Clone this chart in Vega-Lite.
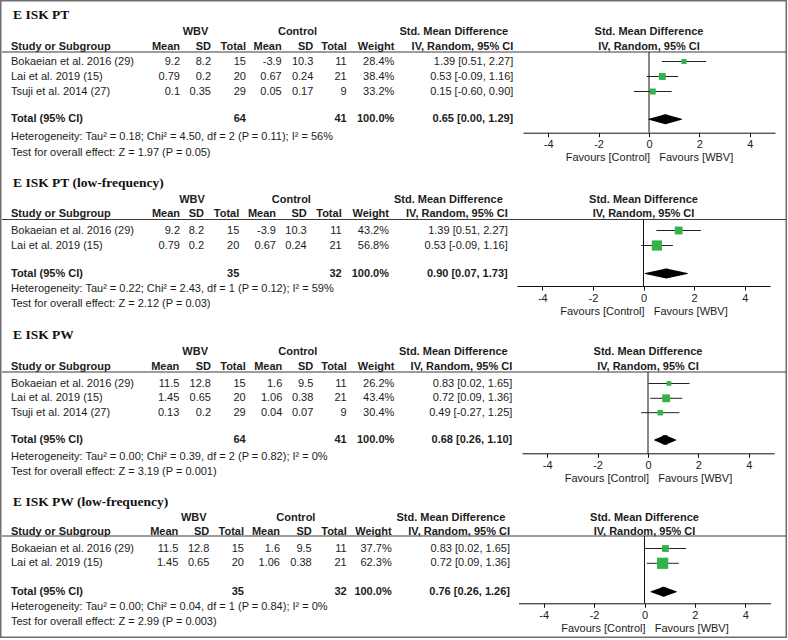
{
  "$schema": "https://vega.github.io/schema/vega-lite/v6.json",
  "width": 787,
  "height": 638,
  "autosize": {"type": "none"},
  "padding": 0,
  "background": "white",
  "config": {
    "view": {"stroke": "#6e6e6e", "strokeWidth": 3},
    "text": {"font": "Liberation Sans", "fontSize": 11, "color": "#1c1c1c", "baseline": "middle"},
    "axis": {"domainColor": "#111111", "tickColor": "#111111", "domainWidth": 1, "tickWidth": 1, "tickSize": 4, "labelFont": "Liberation Sans", "labelFontSize": 11, "labelColor": "#1c1c1c", "labelPadding": 2, "labelExpr": "'' + datum.value", "titleFont": "Liberation Sans", "titleFontSize": 11, "titleFontWeight": "normal", "titleColor": "#1c1c1c", "titlePadding": 2, "grid": false, "labelFlush": false, "labelOverlap": false}
  },
  "datasets": {
    "cells": [
      {"p":1,"row":0,"col":1,"kind":"title","text":"E ISK PT"},
      {"p":1,"row":1,"col":2.5,"kind":"group","text":"WBV"},
      {"p":1,"row":1,"col":5.5,"kind":"group","text":"Control"},
      {"p":1,"row":1,"col":8.5,"kind":"group","text":"Std. Mean Difference"},
      {"p":1,"row":1,"kind":"fhead","text":"Std. Mean Difference"},
      {"p":1,"row":2,"kind":"fhead","text":"IV, Random, 95% CI"},
      {"p":1,"row":2,"col":1,"kind":"head","text":"Study or Subgroup"},
      {"p":1,"row":2,"col":2,"kind":"head","text":"Mean"},
      {"p":1,"row":2,"col":3,"kind":"head","text":"SD"},
      {"p":1,"row":2,"col":4,"kind":"head","text":"Total"},
      {"p":1,"row":2,"col":5,"kind":"head","text":"Mean"},
      {"p":1,"row":2,"col":6,"kind":"head","text":"SD"},
      {"p":1,"row":2,"col":7,"kind":"head","text":"Total"},
      {"p":1,"row":2,"col":8,"kind":"head","text":"Weight"},
      {"p":1,"row":2,"col":9,"kind":"head","text":"IV, Random, 95% CI"},
      {"p":1,"row":3,"col":1,"kind":"study","text":"Bokaeian et al. 2016 (29)"},
      {"p":1,"row":3,"col":2,"kind":"study","text":"9.2"},
      {"p":1,"row":3,"col":3,"kind":"study","text":"8.2"},
      {"p":1,"row":3,"col":4,"kind":"study","text":"15"},
      {"p":1,"row":3,"col":5,"kind":"study","text":"-3.9"},
      {"p":1,"row":3,"col":6,"kind":"study","text":"10.3"},
      {"p":1,"row":3,"col":7,"kind":"study","text":"11"},
      {"p":1,"row":3,"col":8,"kind":"study","text":"28.4%"},
      {"p":1,"row":3,"col":9,"kind":"study","text":"1.39 [0.51, 2.27]"},
      {"p":1,"row":4,"col":1,"kind":"study","text":"Lai et al. 2019 (15)"},
      {"p":1,"row":4,"col":2,"kind":"study","text":"0.79"},
      {"p":1,"row":4,"col":3,"kind":"study","text":"0.2"},
      {"p":1,"row":4,"col":4,"kind":"study","text":"20"},
      {"p":1,"row":4,"col":5,"kind":"study","text":"0.67"},
      {"p":1,"row":4,"col":6,"kind":"study","text":"0.24"},
      {"p":1,"row":4,"col":7,"kind":"study","text":"21"},
      {"p":1,"row":4,"col":8,"kind":"study","text":"38.4%"},
      {"p":1,"row":4,"col":9,"kind":"study","text":"0.53 [-0.09, 1.16]"},
      {"p":1,"row":5,"col":1,"kind":"study","text":"Tsuji et al. 2014 (27)"},
      {"p":1,"row":5,"col":2,"kind":"study","text":"0.1"},
      {"p":1,"row":5,"col":3,"kind":"study","text":"0.35"},
      {"p":1,"row":5,"col":4,"kind":"study","text":"29"},
      {"p":1,"row":5,"col":5,"kind":"study","text":"0.05"},
      {"p":1,"row":5,"col":6,"kind":"study","text":"0.17"},
      {"p":1,"row":5,"col":7,"kind":"study","text":"9"},
      {"p":1,"row":5,"col":8,"kind":"study","text":"33.2%"},
      {"p":1,"row":5,"col":9,"kind":"study","text":"0.15 [-0.60, 0.90]"},
      {"p":1,"row":6,"col":1,"kind":"total","text":"Total (95% CI)"},
      {"p":1,"row":6,"col":4,"kind":"total","text":"64"},
      {"p":1,"row":6,"col":7,"kind":"total","text":"41"},
      {"p":1,"row":6,"col":8,"kind":"total","text":"100.0%"},
      {"p":1,"row":6,"col":9,"kind":"total","text":"0.65 [0.00, 1.29]"},
      {"p":1,"row":7,"col":1,"kind":"note","text":"Heterogeneity: Tau² = 0.18; Chi² = 4.50, df = 2 (P = 0.11); I² = 56%"},
      {"p":1,"row":8,"col":1,"kind":"note","text":"Test for overall effect: Z = 1.97 (P = 0.05)"},

      {"p":2,"row":9,"col":1,"kind":"title","text":"E ISK PT (low-frequency)"},
      {"p":2,"row":10,"col":2.5,"kind":"group","text":"WBV"},
      {"p":2,"row":10,"col":5.5,"kind":"group","text":"Control"},
      {"p":2,"row":10,"col":8.5,"kind":"group","text":"Std. Mean Difference"},
      {"p":2,"row":10,"kind":"fhead","text":"Std. Mean Difference"},
      {"p":2,"row":11,"kind":"fhead","text":"IV, Random, 95% CI"},
      {"p":2,"row":11,"col":1,"kind":"head","text":"Study or Subgroup"},
      {"p":2,"row":11,"col":2,"kind":"head","text":"Mean"},
      {"p":2,"row":11,"col":3,"kind":"head","text":"SD"},
      {"p":2,"row":11,"col":4,"kind":"head","text":"Total"},
      {"p":2,"row":11,"col":5,"kind":"head","text":"Mean"},
      {"p":2,"row":11,"col":6,"kind":"head","text":"SD"},
      {"p":2,"row":11,"col":7,"kind":"head","text":"Total"},
      {"p":2,"row":11,"col":8,"kind":"head","text":"Weight"},
      {"p":2,"row":11,"col":9,"kind":"head","text":"IV, Random, 95% CI"},
      {"p":2,"row":12,"col":1,"kind":"study","text":"Bokaeian et al. 2016 (29)"},
      {"p":2,"row":12,"col":2,"kind":"study","text":"9.2"},
      {"p":2,"row":12,"col":3,"kind":"study","text":"8.2"},
      {"p":2,"row":12,"col":4,"kind":"study","text":"15"},
      {"p":2,"row":12,"col":5,"kind":"study","text":"-3.9"},
      {"p":2,"row":12,"col":6,"kind":"study","text":"10.3"},
      {"p":2,"row":12,"col":7,"kind":"study","text":"11"},
      {"p":2,"row":12,"col":8,"kind":"study","text":"43.2%"},
      {"p":2,"row":12,"col":9,"kind":"study","text":"1.39 [0.51, 2.27]"},
      {"p":2,"row":13,"col":1,"kind":"study","text":"Lai et al. 2019 (15)"},
      {"p":2,"row":13,"col":2,"kind":"study","text":"0.79"},
      {"p":2,"row":13,"col":3,"kind":"study","text":"0.2"},
      {"p":2,"row":13,"col":4,"kind":"study","text":"20"},
      {"p":2,"row":13,"col":5,"kind":"study","text":"0.67"},
      {"p":2,"row":13,"col":6,"kind":"study","text":"0.24"},
      {"p":2,"row":13,"col":7,"kind":"study","text":"21"},
      {"p":2,"row":13,"col":8,"kind":"study","text":"56.8%"},
      {"p":2,"row":13,"col":9,"kind":"study","text":"0.53 [-0.09, 1.16]"},
      {"p":2,"row":14,"col":1,"kind":"total","text":"Total (95% CI)"},
      {"p":2,"row":14,"col":4,"kind":"total","text":"35"},
      {"p":2,"row":14,"col":7,"kind":"total","text":"32"},
      {"p":2,"row":14,"col":8,"kind":"total","text":"100.0%"},
      {"p":2,"row":14,"col":9,"kind":"total","text":"0.90 [0.07, 1.73]"},
      {"p":2,"row":15,"col":1,"kind":"note","text":"Heterogeneity: Tau² = 0.22; Chi² = 2.43, df = 1 (P = 0.12); I² = 59%"},
      {"p":2,"row":16,"col":1,"kind":"note","text":"Test for overall effect: Z = 2.12 (P = 0.03)"},

      {"p":3,"row":17,"col":1,"kind":"title","text":"E ISK PW"},
      {"p":3,"row":18,"col":2.5,"kind":"group","text":"WBV"},
      {"p":3,"row":18,"col":5.5,"kind":"group","text":"Control"},
      {"p":3,"row":18,"col":8.5,"kind":"group","text":"Std. Mean Difference"},
      {"p":3,"row":18,"kind":"fhead","text":"Std. Mean Difference"},
      {"p":3,"row":19,"kind":"fhead","text":"IV, Random, 95% CI"},
      {"p":3,"row":19,"col":1,"kind":"head","text":"Study or Subgroup"},
      {"p":3,"row":19,"col":2,"kind":"head","text":"Mean"},
      {"p":3,"row":19,"col":3,"kind":"head","text":"SD"},
      {"p":3,"row":19,"col":4,"kind":"head","text":"Total"},
      {"p":3,"row":19,"col":5,"kind":"head","text":"Mean"},
      {"p":3,"row":19,"col":6,"kind":"head","text":"SD"},
      {"p":3,"row":19,"col":7,"kind":"head","text":"Total"},
      {"p":3,"row":19,"col":8,"kind":"head","text":"Weight"},
      {"p":3,"row":19,"col":9,"kind":"head","text":"IV, Random, 95% CI"},
      {"p":3,"row":20,"col":1,"kind":"study","text":"Bokaeian et al. 2016 (29)"},
      {"p":3,"row":20,"col":2,"kind":"study","text":"11.5"},
      {"p":3,"row":20,"col":3,"kind":"study","text":"12.8"},
      {"p":3,"row":20,"col":4,"kind":"study","text":"15"},
      {"p":3,"row":20,"col":5,"kind":"study","text":"1.6"},
      {"p":3,"row":20,"col":6,"kind":"study","text":"9.5"},
      {"p":3,"row":20,"col":7,"kind":"study","text":"11"},
      {"p":3,"row":20,"col":8,"kind":"study","text":"26.2%"},
      {"p":3,"row":20,"col":9,"kind":"study","text":"0.83 [0.02, 1.65]"},
      {"p":3,"row":21,"col":1,"kind":"study","text":"Lai et al. 2019 (15)"},
      {"p":3,"row":21,"col":2,"kind":"study","text":"1.45"},
      {"p":3,"row":21,"col":3,"kind":"study","text":"0.65"},
      {"p":3,"row":21,"col":4,"kind":"study","text":"20"},
      {"p":3,"row":21,"col":5,"kind":"study","text":"1.06"},
      {"p":3,"row":21,"col":6,"kind":"study","text":"0.38"},
      {"p":3,"row":21,"col":7,"kind":"study","text":"21"},
      {"p":3,"row":21,"col":8,"kind":"study","text":"43.4%"},
      {"p":3,"row":21,"col":9,"kind":"study","text":"0.72 [0.09, 1.36]"},
      {"p":3,"row":22,"col":1,"kind":"study","text":"Tsuji et al. 2014 (27)"},
      {"p":3,"row":22,"col":2,"kind":"study","text":"0.13"},
      {"p":3,"row":22,"col":3,"kind":"study","text":"0.2"},
      {"p":3,"row":22,"col":4,"kind":"study","text":"29"},
      {"p":3,"row":22,"col":5,"kind":"study","text":"0.04"},
      {"p":3,"row":22,"col":6,"kind":"study","text":"0.07"},
      {"p":3,"row":22,"col":7,"kind":"study","text":"9"},
      {"p":3,"row":22,"col":8,"kind":"study","text":"30.4%"},
      {"p":3,"row":22,"col":9,"kind":"study","text":"0.49 [-0.27, 1.25]"},
      {"p":3,"row":23,"col":1,"kind":"total","text":"Total (95% CI)"},
      {"p":3,"row":23,"col":4,"kind":"total","text":"64"},
      {"p":3,"row":23,"col":7,"kind":"total","text":"41"},
      {"p":3,"row":23,"col":8,"kind":"total","text":"100.0%"},
      {"p":3,"row":23,"col":9,"kind":"total","text":"0.68 [0.26, 1.10]"},
      {"p":3,"row":24,"col":1,"kind":"note","text":"Heterogeneity: Tau² = 0.00; Chi² = 0.39, df = 2 (P = 0.82); I² = 0%"},
      {"p":3,"row":25,"col":1,"kind":"note","text":"Test for overall effect: Z = 3.19 (P = 0.001)"},

      {"p":4,"row":26,"col":1,"kind":"title","text":"E ISK PW (low-frequency)"},
      {"p":4,"row":27,"col":2.5,"kind":"group","text":"WBV"},
      {"p":4,"row":27,"col":5.5,"kind":"group","text":"Control"},
      {"p":4,"row":27,"col":8.5,"kind":"group","text":"Std. Mean Difference"},
      {"p":4,"row":27,"kind":"fhead","text":"Std. Mean Difference"},
      {"p":4,"row":28,"kind":"fhead","text":"IV, Random, 95% CI"},
      {"p":4,"row":28,"col":1,"kind":"head","text":"Study or Subgroup"},
      {"p":4,"row":28,"col":2,"kind":"head","text":"Mean"},
      {"p":4,"row":28,"col":3,"kind":"head","text":"SD"},
      {"p":4,"row":28,"col":4,"kind":"head","text":"Total"},
      {"p":4,"row":28,"col":5,"kind":"head","text":"Mean"},
      {"p":4,"row":28,"col":6,"kind":"head","text":"SD"},
      {"p":4,"row":28,"col":7,"kind":"head","text":"Total"},
      {"p":4,"row":28,"col":8,"kind":"head","text":"Weight"},
      {"p":4,"row":28,"col":9,"kind":"head","text":"IV, Random, 95% CI"},
      {"p":4,"row":29,"col":1,"kind":"study","text":"Bokaeian et al. 2016 (29)"},
      {"p":4,"row":29,"col":2,"kind":"study","text":"11.5"},
      {"p":4,"row":29,"col":3,"kind":"study","text":"12.8"},
      {"p":4,"row":29,"col":4,"kind":"study","text":"15"},
      {"p":4,"row":29,"col":5,"kind":"study","text":"1.6"},
      {"p":4,"row":29,"col":6,"kind":"study","text":"9.5"},
      {"p":4,"row":29,"col":7,"kind":"study","text":"11"},
      {"p":4,"row":29,"col":8,"kind":"study","text":"37.7%"},
      {"p":4,"row":29,"col":9,"kind":"study","text":"0.83 [0.02, 1.65]"},
      {"p":4,"row":30,"col":1,"kind":"study","text":"Lai et al. 2019 (15)"},
      {"p":4,"row":30,"col":2,"kind":"study","text":"1.45"},
      {"p":4,"row":30,"col":3,"kind":"study","text":"0.65"},
      {"p":4,"row":30,"col":4,"kind":"study","text":"20"},
      {"p":4,"row":30,"col":5,"kind":"study","text":"1.06"},
      {"p":4,"row":30,"col":6,"kind":"study","text":"0.38"},
      {"p":4,"row":30,"col":7,"kind":"study","text":"21"},
      {"p":4,"row":30,"col":8,"kind":"study","text":"62.3%"},
      {"p":4,"row":30,"col":9,"kind":"study","text":"0.72 [0.09, 1.36]"},
      {"p":4,"row":31,"col":1,"kind":"total","text":"Total (95% CI)"},
      {"p":4,"row":31,"col":4,"kind":"total","text":"35"},
      {"p":4,"row":31,"col":7,"kind":"total","text":"32"},
      {"p":4,"row":31,"col":8,"kind":"total","text":"100.0%"},
      {"p":4,"row":31,"col":9,"kind":"total","text":"0.76 [0.26, 1.26]"},
      {"p":4,"row":32,"col":1,"kind":"note","text":"Heterogeneity: Tau² = 0.00; Chi² = 0.04, df = 1 (P = 0.84); I² = 0%"},
      {"p":4,"row":33,"col":1,"kind":"note","text":"Test for overall effect: Z = 2.99 (P = 0.003)"}
    ],
    "studies": [
      {"p":1,"row":3,"est":1.39,"lo":0.51,"hi":2.27,"w":28.4},
      {"p":1,"row":4,"est":0.53,"lo":-0.09,"hi":1.16,"w":38.4},
      {"p":1,"row":5,"est":0.15,"lo":-0.60,"hi":0.90,"w":33.2},
      {"p":2,"row":12,"est":1.39,"lo":0.51,"hi":2.27,"w":43.2},
      {"p":2,"row":13,"est":0.53,"lo":-0.09,"hi":1.16,"w":56.8},
      {"p":3,"row":20,"est":0.83,"lo":0.02,"hi":1.65,"w":26.2},
      {"p":3,"row":21,"est":0.72,"lo":0.09,"hi":1.36,"w":43.4},
      {"p":3,"row":22,"est":0.49,"lo":-0.27,"hi":1.25,"w":30.4},
      {"p":4,"row":29,"est":0.83,"lo":0.02,"hi":1.65,"w":37.7},
      {"p":4,"row":30,"est":0.72,"lo":0.09,"hi":1.36,"w":62.3}
    ],
    "pooled": [
      {"p":1,"row":6,"est":0.65,"lo":0.00,"hi":1.29},
      {"p":2,"row":14,"est":0.90,"lo":0.07,"hi":1.73},
      {"p":3,"row":23,"est":0.68,"lo":0.26,"hi":1.10},
      {"p":4,"row":31,"est":0.76,"lo":0.26,"hi":1.26}
    ]
  },
  "layer": [
    {
      "layer": [
        {
          "data": {"name": "cells"},
          "transform": [{"filter": "datum.p == 1"}],
          "encoding": {
            "x": {"field": "col", "type": "quantitative", "axis": null, "scale": {"nice": false, "zero": false, "domain": [0,1,2,3,4,5,6,7,8,9,10], "range": [2,11,180,211,246,281.7,313.3,346.7,394.3,513.3,786]}},
            "y": {"field": "row", "type": "quantitative", "axis": null,
              "scale": {"nice": false, "zero": false,
                "domain": [0,1,2,2.5,3,4,5,6,6.5,7,8, 9,10,11,11.5,12,13,14,14.5,15,16, 17,18,19,19.5,20,21,22,23,23.5,24,25, 26,27,28,28.5,29,30,31,31.5,32,33],
                "range": [15,32.3,46.7,52,61.5,76.5,91.5,119.3,132.7,137,153, 183.3,200,214.3,219.5,230.5,245.5,273.5,286,289,304, 335,352.3,367.3,372,383.5,398.3,412.7,440,453.3,456.7,471.5, 501.7,517.7,532.3,536,548.5,563.3,591.7,603.3,606.7,622.3]}},
            "text": {"field": "text"}
          },
          "layer": [
            {"transform": [{"filter": "datum.kind == 'title'"}], "mark": {"type": "text", "align": "left", "dx": 2, "font": "Liberation Serif", "fontSize": 13.5, "fontWeight": "bold", "color": "#111111"}},
            {"transform": [{"filter": "datum.kind == 'group'"}], "mark": {"type": "text", "align": "center", "fontWeight": "bold"}},
            {"transform": [{"filter": "(datum.kind == 'head' || datum.kind == 'total') && datum.col == 1"}], "mark": {"type": "text", "align": "left", "fontWeight": "bold"}},
            {"transform": [{"filter": "(datum.kind == 'head' || datum.kind == 'total') && datum.col > 1"}], "mark": {"type": "text", "align": "right", "fontWeight": "bold"}},
            {"transform": [{"filter": "(datum.kind == 'study' || datum.kind == 'note') && datum.col == 1"}], "mark": {"type": "text", "align": "left"}},
            {"transform": [{"filter": "datum.kind == 'study' && datum.col > 1"}], "mark": {"type": "text", "align": "right"}}
          ]
        },
        {"data": {"values": [{}]}, "mark": {"type": "rule", "color": "#3a3a3a", "strokeWidth": 1.2},
         "encoding": {"x": {"datum": 0, "type": "quantitative", "axis": null}, "x2": {"datum": 10}, "y": {"datum": 2.5, "type": "quantitative", "axis": null}}}
      ]
    },
    {
      "layer": [
        {
          "data": {"name": "cells"},
          "transform": [{"filter": "datum.p == 2"}],
          "encoding": {
            "x": {"field": "col", "type": "quantitative", "axis": null, "scale": {"nice": false, "zero": false, "domain": [0,1,2,3,4,5,6,7,8,9,10], "range": [2,11,180,204,239.3,276,306.7,341.7,389,507.7,786]}},
            "y": {"field": "row", "type": "quantitative", "axis": null},
            "text": {"field": "text"}
          },
          "layer": [
            {"transform": [{"filter": "datum.kind == 'title'"}], "mark": {"type": "text", "align": "left", "dx": 2, "font": "Liberation Serif", "fontSize": 13.5, "fontWeight": "bold", "color": "#111111"}},
            {"transform": [{"filter": "datum.kind == 'group'"}], "mark": {"type": "text", "align": "center", "fontWeight": "bold"}},
            {"transform": [{"filter": "(datum.kind == 'head' || datum.kind == 'total') && datum.col == 1"}], "mark": {"type": "text", "align": "left", "fontWeight": "bold"}},
            {"transform": [{"filter": "(datum.kind == 'head' || datum.kind == 'total') && datum.col > 1"}], "mark": {"type": "text", "align": "right", "fontWeight": "bold"}},
            {"transform": [{"filter": "(datum.kind == 'study' || datum.kind == 'note') && datum.col == 1"}], "mark": {"type": "text", "align": "left"}},
            {"transform": [{"filter": "datum.kind == 'study' && datum.col > 1"}], "mark": {"type": "text", "align": "right"}}
          ]
        },
        {"data": {"values": [{}]}, "mark": {"type": "rule", "color": "#3a3a3a", "strokeWidth": 1.2},
         "encoding": {"x": {"datum": 0, "type": "quantitative", "axis": null}, "x2": {"datum": 10}, "y": {"datum": 11.5, "type": "quantitative", "axis": null}}}
      ]
    },
    {
      "layer": [
        {
          "data": {"name": "cells"},
          "transform": [{"filter": "datum.p == 3"}],
          "encoding": {
            "x": {"field": "col", "type": "quantitative", "axis": null, "scale": {"nice": false, "zero": false, "domain": [0,1,2,3,4,5,6,7,8,9,10], "range": [2,11,179.3,211,245.7,282.3,313.3,346.7,394.3,512.3,786]}},
            "y": {"field": "row", "type": "quantitative", "axis": null},
            "text": {"field": "text"}
          },
          "layer": [
            {"transform": [{"filter": "datum.kind == 'title'"}], "mark": {"type": "text", "align": "left", "dx": 2, "font": "Liberation Serif", "fontSize": 13.5, "fontWeight": "bold", "color": "#111111"}},
            {"transform": [{"filter": "datum.kind == 'group'"}], "mark": {"type": "text", "align": "center", "fontWeight": "bold"}},
            {"transform": [{"filter": "(datum.kind == 'head' || datum.kind == 'total') && datum.col == 1"}], "mark": {"type": "text", "align": "left", "fontWeight": "bold"}},
            {"transform": [{"filter": "(datum.kind == 'head' || datum.kind == 'total') && datum.col > 1"}], "mark": {"type": "text", "align": "right", "fontWeight": "bold"}},
            {"transform": [{"filter": "(datum.kind == 'study' || datum.kind == 'note') && datum.col == 1"}], "mark": {"type": "text", "align": "left"}},
            {"transform": [{"filter": "datum.kind == 'study' && datum.col > 1"}], "mark": {"type": "text", "align": "right"}}
          ]
        },
        {"data": {"values": [{}]}, "mark": {"type": "rule", "color": "#3a3a3a", "strokeWidth": 1.2},
         "encoding": {"x": {"datum": 0, "type": "quantitative", "axis": null}, "x2": {"datum": 10}, "y": {"datum": 19.5, "type": "quantitative", "axis": null}}}
      ]
    },
    {
      "layer": [
        {
          "data": {"name": "cells"},
          "transform": [{"filter": "datum.p == 4"}],
          "encoding": {
            "x": {"field": "col", "type": "quantitative", "axis": null, "scale": {"nice": false, "zero": false, "domain": [0,1,2,3,4,5,6,7,8,9,10], "range": [2,11,178.3,209.3,244,280,311.7,346.7,391.7,510,786]}},
            "y": {"field": "row", "type": "quantitative", "axis": null},
            "text": {"field": "text"}
          },
          "layer": [
            {"transform": [{"filter": "datum.kind == 'title'"}], "mark": {"type": "text", "align": "left", "dx": 2, "font": "Liberation Serif", "fontSize": 13.5, "fontWeight": "bold", "color": "#111111"}},
            {"transform": [{"filter": "datum.kind == 'group'"}], "mark": {"type": "text", "align": "center", "fontWeight": "bold"}},
            {"transform": [{"filter": "(datum.kind == 'head' || datum.kind == 'total') && datum.col == 1"}], "mark": {"type": "text", "align": "left", "fontWeight": "bold"}},
            {"transform": [{"filter": "(datum.kind == 'head' || datum.kind == 'total') && datum.col > 1"}], "mark": {"type": "text", "align": "right", "fontWeight": "bold"}},
            {"transform": [{"filter": "(datum.kind == 'study' || datum.kind == 'note') && datum.col == 1"}], "mark": {"type": "text", "align": "left"}},
            {"transform": [{"filter": "datum.kind == 'study' && datum.col > 1"}], "mark": {"type": "text", "align": "right"}}
          ]
        },
        {"data": {"values": [{}]}, "mark": {"type": "rule", "color": "#3a3a3a", "strokeWidth": 1.2},
         "encoding": {"x": {"datum": 0, "type": "quantitative", "axis": null}, "x2": {"datum": 10}, "y": {"datum": 28.5, "type": "quantitative", "axis": null}}}
      ]
    },
    {
      "layer": [
        {"data": {"name": "studies"}, "transform": [{"filter": "datum.p == 1"}], "mark": {"type": "rule", "color": "#222222", "strokeWidth": 1},
         "encoding": {"x": {"field": "lo", "type": "quantitative", "scale": {"domain": [-5, 5], "range": [523, 775], "nice": false, "zero": false},
           "axis": {"orient": "bottom", "offset": -505.3, "values": [-4, -2, 0, 2, 4], "title": "Favours [Control]\u00a0\u00a0\u00a0Favours [WBV]"}},
           "x2": {"field": "hi"}, "y": {"field": "row", "type": "quantitative", "axis": null}}},
        {"data": {"values": [{}]}, "mark": {"type": "rule", "color": "#111111", "strokeWidth": 1},
         "encoding": {"x": {"datum": 0, "type": "quantitative"}, "y": {"datum": 2.5, "type": "quantitative", "axis": null}, "y2": {"datum": 6.5}}},
        {"data": {"name": "studies"}, "transform": [{"filter": "datum.p == 1"}], "mark": {"type": "point", "shape": "square", "filled": true, "opacity": 1, "color": "#33b34a"},
         "encoding": {"x": {"field": "est", "type": "quantitative"}, "y": {"field": "row", "type": "quantitative", "axis": null}, "size": {"field": "w", "type": "quantitative", "scale": {"type": "pow", "exponent": 2, "domain": [0, 100], "range": [0, 324]}, "legend": null}}},
        {"data": {"name": "pooled"}, "transform": [{"filter": "datum.p == 1"}, {"fold": ["lo", "est", "hi"], "as": ["part", "val"]}], "mark": {"type": "trail", "color": "#000000"},
         "encoding": {"x": {"field": "val", "type": "quantitative"}, "y": {"field": "row", "type": "quantitative", "axis": null}, "size": {"field": "part", "type": "ordinal", "scale": {"type": "ordinal", "domain": ["lo", "est", "hi"], "range": [0, 10, 0]}, "legend": null}}},
        {"data": {"name": "cells"}, "transform": [{"filter": "datum.p == 1 && datum.kind == 'fhead'"}], "mark": {"type": "text", "align": "center", "fontWeight": "bold"},
         "encoding": {"x": {"datum": 0, "type": "quantitative"}, "y": {"field": "row", "type": "quantitative", "axis": null}, "text": {"field": "text"}}}
      ],
      "resolve": {"scale": {"size": "independent"}}
    },
    {
      "layer": [
        {"data": {"name": "studies"}, "transform": [{"filter": "datum.p == 2"}], "mark": {"type": "rule", "color": "#222222", "strokeWidth": 1},
         "encoding": {"x": {"field": "lo", "type": "quantitative", "scale": {"domain": [-5, 5], "range": [517, 770], "nice": false, "zero": false},
           "axis": {"orient": "bottom", "offset": -352, "values": [-4, -2, 0, 2, 4], "title": "Favours [Control]\u00a0\u00a0\u00a0Favours [WBV]"}},
           "x2": {"field": "hi"}, "y": {"field": "row", "type": "quantitative", "axis": null}}},
        {"data": {"values": [{}]}, "mark": {"type": "rule", "color": "#111111", "strokeWidth": 1},
         "encoding": {"x": {"datum": 0, "type": "quantitative"}, "y": {"datum": 11.5, "type": "quantitative", "axis": null}, "y2": {"datum": 14.5}}},
        {"data": {"name": "studies"}, "transform": [{"filter": "datum.p == 2"}], "mark": {"type": "point", "shape": "square", "filled": true, "opacity": 1, "color": "#33b34a"},
         "encoding": {"x": {"field": "est", "type": "quantitative"}, "y": {"field": "row", "type": "quantitative", "axis": null}, "size": {"field": "w", "type": "quantitative", "scale": {"type": "pow", "exponent": 2, "domain": [0, 100], "range": [0, 324]}, "legend": null}}},
        {"data": {"name": "pooled"}, "transform": [{"filter": "datum.p == 2"}, {"fold": ["lo", "est", "hi"], "as": ["part", "val"]}], "mark": {"type": "trail", "color": "#000000"},
         "encoding": {"x": {"field": "val", "type": "quantitative"}, "y": {"field": "row", "type": "quantitative", "axis": null}, "size": {"field": "part", "type": "ordinal", "scale": {"type": "ordinal", "domain": ["lo", "est", "hi"], "range": [0, 10, 0]}, "legend": null}}},
        {"data": {"name": "cells"}, "transform": [{"filter": "datum.p == 2 && datum.kind == 'fhead'"}], "mark": {"type": "text", "align": "center", "fontWeight": "bold"},
         "encoding": {"x": {"datum": 0, "type": "quantitative"}, "y": {"field": "row", "type": "quantitative", "axis": null}, "text": {"field": "text"}}}
      ],
      "resolve": {"scale": {"size": "independent"}}
    },
    {
      "layer": [
        {"data": {"name": "studies"}, "transform": [{"filter": "datum.p == 3"}], "mark": {"type": "rule", "color": "#222222", "strokeWidth": 1},
         "encoding": {"x": {"field": "lo", "type": "quantitative", "scale": {"domain": [-5, 5], "range": [522, 774], "nice": false, "zero": false},
           "axis": {"orient": "bottom", "offset": -184.7, "values": [-4, -2, 0, 2, 4], "title": "Favours [Control]\u00a0\u00a0\u00a0Favours [WBV]"}},
           "x2": {"field": "hi"}, "y": {"field": "row", "type": "quantitative", "axis": null}}},
        {"data": {"values": [{}]}, "mark": {"type": "rule", "color": "#111111", "strokeWidth": 1},
         "encoding": {"x": {"datum": 0, "type": "quantitative"}, "y": {"datum": 19.5, "type": "quantitative", "axis": null}, "y2": {"datum": 23.5}}},
        {"data": {"name": "studies"}, "transform": [{"filter": "datum.p == 3"}], "mark": {"type": "point", "shape": "square", "filled": true, "opacity": 1, "color": "#33b34a"},
         "encoding": {"x": {"field": "est", "type": "quantitative"}, "y": {"field": "row", "type": "quantitative", "axis": null}, "size": {"field": "w", "type": "quantitative", "scale": {"type": "pow", "exponent": 2, "domain": [0, 100], "range": [0, 324]}, "legend": null}}},
        {"data": {"name": "pooled"}, "transform": [{"filter": "datum.p == 3"}, {"fold": ["lo", "est", "hi"], "as": ["part", "val"]}], "mark": {"type": "trail", "color": "#000000"},
         "encoding": {"x": {"field": "val", "type": "quantitative"}, "y": {"field": "row", "type": "quantitative", "axis": null}, "size": {"field": "part", "type": "ordinal", "scale": {"type": "ordinal", "domain": ["lo", "est", "hi"], "range": [0, 10, 0]}, "legend": null}}},
        {"data": {"name": "cells"}, "transform": [{"filter": "datum.p == 3 && datum.kind == 'fhead'"}], "mark": {"type": "text", "align": "center", "fontWeight": "bold"},
         "encoding": {"x": {"datum": 0, "type": "quantitative"}, "y": {"field": "row", "type": "quantitative", "axis": null}, "text": {"field": "text"}}}
      ],
      "resolve": {"scale": {"size": "independent"}}
    },
    {
      "layer": [
        {"data": {"name": "studies"}, "transform": [{"filter": "datum.p == 4"}], "mark": {"type": "rule", "color": "#222222", "strokeWidth": 1},
         "encoding": {"x": {"field": "lo", "type": "quantitative", "scale": {"domain": [-5, 5], "range": [518.5, 770.5], "nice": false, "zero": false},
           "axis": {"orient": "bottom", "offset": -34.7, "values": [-4, -2, 0, 2, 4], "title": "Favours [Control]\u00a0\u00a0\u00a0Favours [WBV]"}},
           "x2": {"field": "hi"}, "y": {"field": "row", "type": "quantitative", "axis": null}}},
        {"data": {"values": [{}]}, "mark": {"type": "rule", "color": "#111111", "strokeWidth": 1},
         "encoding": {"x": {"datum": 0, "type": "quantitative"}, "y": {"datum": 28.5, "type": "quantitative", "axis": null}, "y2": {"datum": 31.5}}},
        {"data": {"name": "studies"}, "transform": [{"filter": "datum.p == 4"}], "mark": {"type": "point", "shape": "square", "filled": true, "opacity": 1, "color": "#33b34a"},
         "encoding": {"x": {"field": "est", "type": "quantitative"}, "y": {"field": "row", "type": "quantitative", "axis": null}, "size": {"field": "w", "type": "quantitative", "scale": {"type": "pow", "exponent": 2, "domain": [0, 100], "range": [0, 324]}, "legend": null}}},
        {"data": {"name": "pooled"}, "transform": [{"filter": "datum.p == 4"}, {"fold": ["lo", "est", "hi"], "as": ["part", "val"]}], "mark": {"type": "trail", "color": "#000000"},
         "encoding": {"x": {"field": "val", "type": "quantitative"}, "y": {"field": "row", "type": "quantitative", "axis": null}, "size": {"field": "part", "type": "ordinal", "scale": {"type": "ordinal", "domain": ["lo", "est", "hi"], "range": [0, 10, 0]}, "legend": null}}},
        {"data": {"name": "cells"}, "transform": [{"filter": "datum.p == 4 && datum.kind == 'fhead'"}], "mark": {"type": "text", "align": "center", "fontWeight": "bold"},
         "encoding": {"x": {"datum": 0, "type": "quantitative"}, "y": {"field": "row", "type": "quantitative", "axis": null}, "text": {"field": "text"}}}
      ],
      "resolve": {"scale": {"size": "independent"}}
    }
  ],
  "resolve": {"scale": {"x": "independent", "size": "independent"}, "axis": {"x": "independent"}}
}
